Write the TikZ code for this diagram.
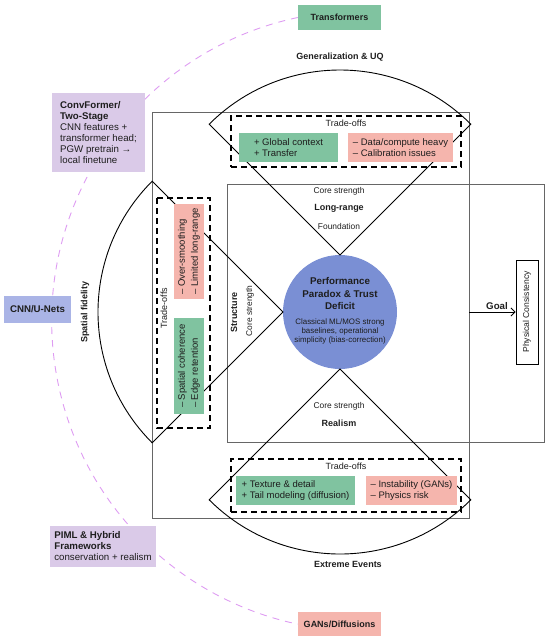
\documentclass[tikz,border=0pt]{standalone}
\usepackage{fontspec}
\setmainfont{Liberation Sans}
\usetikzlibrary{arrows.meta}
\definecolor{cG}{HTML}{80C3A0}
\definecolor{cR}{HTML}{F5B5AD}
\definecolor{cV}{HTML}{DACAE8}
\definecolor{cB}{HTML}{AAB4E6}
\definecolor{cC}{HTML}{7A8FD4}
\definecolor{cL}{HTML}{DE9CF2}
\definecolor{ink}{HTML}{1E1E1E}
\definecolor{edge}{HTML}{666666}
\newcommand\fHead{\fontsize{9}{11}\selectfont\bfseries}
\newcommand\fItem{\fontsize{9.5}{11}\selectfont}
\newcommand\fItemV{\fontsize{9.5}{13}\selectfont}
\newcommand\fTrade{\fontsize{9}{11}\selectfont}
\newcommand\fNote{\fontsize{8.4}{10}\selectfont}
\newcommand\fSide{\fontsize{9.7}{11}\selectfont}
\newcommand\fDisc{\fontsize{9.8}{12.5}\selectfont\bfseries}
\newcommand\fDiscN{\fontsize{7.9}{9}\selectfont}
\newcommand\fPhys{\fontsize{8.6}{10}\selectfont}

\begin{document}
\begin{tikzpicture}[x=10pt,y=10pt,text=ink,
  rim/.style={draw=edge,line width=1pt},
  sect/.style={draw=black,line width=0.9pt},
  trade/.style={draw=black,line width=1.2pt,dash pattern=on 6pt off 4pt,minimum width=230pt,inner sep=0pt},
  pro/.style={fill=cG,align=left,inner sep=0pt,minimum height=29pt,font=\fItem},
  con/.style={fill=cR,align=left,inner sep=0pt,minimum height=29pt,font=\fItem},
  side/.style={inner sep=0pt,font=\fSide,align=left},
  tag/.style={minimum width=83pt,minimum height=25pt,inner sep=0pt,font=\fHead},
  hd/.style={font=\fHead},
  sm/.style={font=\fNote},
  link/.style={draw=cL,line width=0.9pt,dash pattern=on 7pt off 6pt}]

\useasboundingbox (0,0) rectangle (55,-64.1);

% ---------- method families on the dashed arc ----------
\node[tag,fill=cG] (tf) at (33.95,-1.75) {Transformers};
\node[tag,fill=cR,minimum height=24pt] (gans) at (33.95,-62.4) {GANs/Diffusions};
\draw[link] (tf.west) arc[start angle=101.9,end angle=258.1,radius=31];
\node[fill=cV,side,minimum width=93pt,minimum height=79pt] (conv) at (9.85,-13.25)
  {\textbf{ConvFormer/}\\\textbf{Two-Stage}\\CNN features +\\transformer head;\\PGW pretrain →\\local finetune};
\node[fill=cB,minimum width=67pt,minimum height=27pt,inner sep=0pt,font=\fSide\bfseries] (cnn) at (3.75,-30.95) {CNN/U-Nets};
\node[fill=cV,side,minimum width=106pt,minimum height=41pt] (piml) at (10.3,-54.65)
  {\textbf{PIML \& Hybrid}\\\textbf{Frameworks}\\conservation + realism};

% ---------- frames ----------
\draw[rim] (15.2,-11.2) rectangle (46.9,-51.8);
\draw[rim] (22.7,-18.4) rectangle (54.4,-44.2);

% ---------- the paradox and its three cones ----------
\node[circle,fill=cC,minimum size=114pt,inner sep=0pt,outer sep=0pt] (pp) at (34,-31.2) {};
\draw[sect] (pp.north) -- ++(45:18.5) arc[start angle=45,end angle=135,radius=18.5] -- cycle;
\draw[sect] (pp.west) -- ++(135:18.5) arc[start angle=135,end angle=225,radius=18.5] -- cycle;
\draw[sect] (pp.south) -- ++(-45:18.5) arc[start angle=-45,end angle=-135,radius=18.5] -- cycle;
\node[font=\fDisc,align=center,inner sep=0pt] (ppT) at (34,-29.35) {Performance\\Paradox \& Trust\\Deficit};
\node[font=\fDiscN,align=center,inner sep=0pt] (ppN) at (34,-33.1)
  {Classical ML/MOS strong\\baselines, operational\\simplicity (bias-correction)};

% ---------- trade-offs: top ----------
\node[trade,minimum height=51pt] (tdT) at (34.6,-14.15) {};
\node[font=\fTrade] (toT) at (34.6,-12.3) {Trade-offs};
\node[pro,minimum width=99pt] (proT) at (28.85,-14.75) {+ Global context\\+ Transfer};
\node[con,minimum width=105pt] (conT) at (40.05,-14.75) {– Data/compute heavy\\– Calibration issues};

% ---------- trade-offs: left ----------
\node[trade,minimum height=53pt,rotate=90] (tdL) at (18.35,-31.3) {};
\node[font=\fTrade,rotate=90] (toL) at (16.4,-30.8) {Trade-offs};
\node[con,minimum width=95pt,minimum height=30pt,rotate=90,font=\fItemV] (conL) at (18.9,-25.15) {– Over-smoothing\\– Limited long-range};
\node[pro,minimum width=96pt,minimum height=30pt,rotate=90,font=\fItemV] (proL) at (18.9,-36.6) {– Spatial coherence\\– Edge retention};

% ---------- trade-offs: bottom ----------
\node[trade,minimum height=53pt] (tdB) at (34.6,-48.55) {};
\node[font=\fTrade] (toB) at (34.6,-46.6) {Trade-offs};
\node[pro,minimum width=119pt] (proB) at (29.55,-49.05) {+ Texture \& detail\\+ Tail modeling (diffusion)};
\node[con,minimum width=91pt] (conB) at (41.15,-49.05) {– Instability (GANs)\\– Physics risk};

% ---------- labels ----------
\node[hd] (gen) at (34,-5.7) {Generalization \& UQ};
\node[hd] (ext) at (34.8,-56.4) {Extreme Events};
\node[hd,rotate=90] (spf) at (8.5,-31.2) {Spatial fidelity};
\node[hd,rotate=90] (str) at (23.4,-31.2) {Structure};
\node[sm,rotate=90] (csL) at (25.0,-31.1) {Core strength};
\node[sm] (csT) at (33.9,-19.1) {Core strength};
\node[hd] (lr) at (33.9,-20.8) {Long-range};
\node[sm] (fd) at (33.9,-22.6) {Foundation};
\node[sm] (csB) at (33.9,-40.6) {Core strength};
\node[hd] (rl) at (33.9,-42.3) {Realism};

% ---------- goal ----------
\node[draw=black,line width=0.9pt,fill=white,rotate=90,minimum width=104pt,minimum height=22pt,inner sep=0pt,font=\fPhys] (phys) at (52.7,-31.2) {Physical Consistency};
\coordinate (goalS) at (46.9,-31.2);
\draw[-{Straight Barb[length=4pt,width=8pt]},line width=0.9pt] (goalS) -- (phys.north);
\node[font=\fSide\bfseries] (goal) at (49.7,-30.6) {Goal};
\end{tikzpicture}
\end{document}
